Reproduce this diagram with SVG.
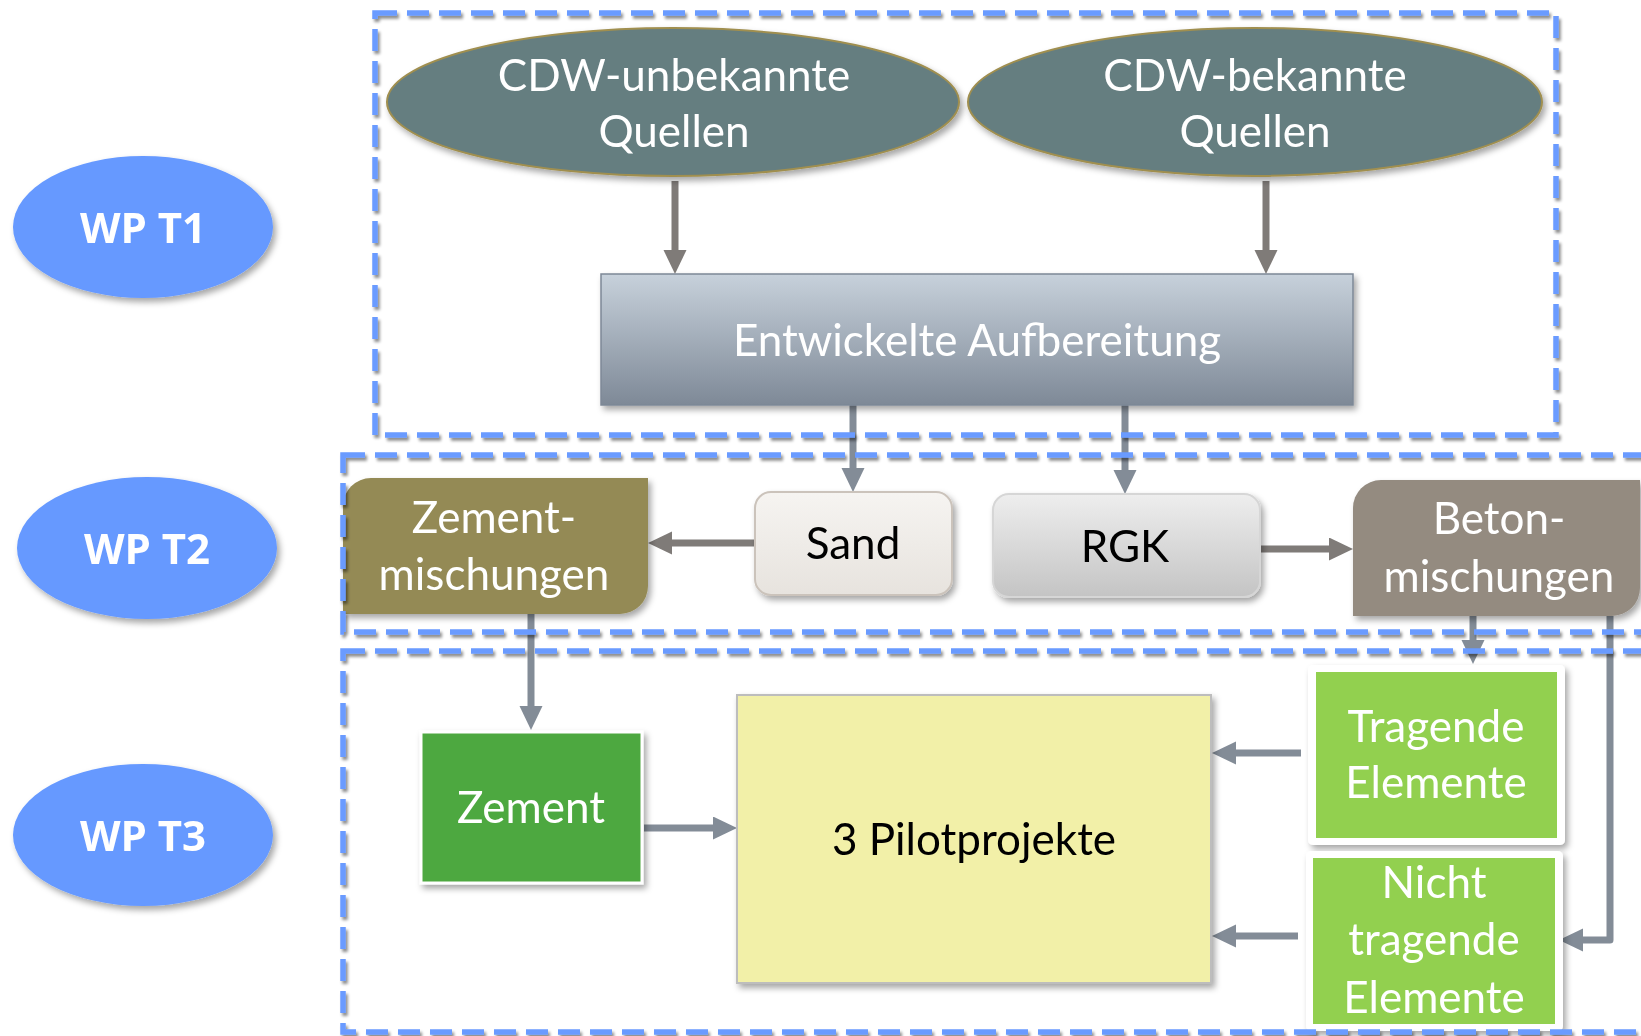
<svg xmlns="http://www.w3.org/2000/svg" width="1641" height="1036" viewBox="0 0 1641 1036">
<style>
.lbl{font-family:Lato,"Open Sans","Liberation Sans",sans-serif;font-size:44px;text-anchor:middle}
.w{fill:#ffffff}
.k{fill:#000000}
.wp{font-family:"Open Sans","DejaVu Sans",sans-serif;font-weight:700;font-size:42px;fill:#ffffff;text-anchor:middle}
.c1{stroke:#7f7b78;stroke-width:7;fill:none}
.c2{stroke:#838c97;stroke-width:7;fill:none;stroke-linejoin:round}
.box{fill:none;stroke:#6a9bff;stroke-width:5.5;stroke-dasharray:22 10}
</style>
<defs>
<filter id="sh" x="-10%" y="-10%" width="130%" height="130%">
<feDropShadow dx="3" dy="4" stdDeviation="3" flood-color="#000" flood-opacity="0.35"/>
</filter>
<filter id="sh2" x="-5%" y="-5%" width="110%" height="110%">
<feDropShadow dx="2" dy="3" stdDeviation="1.5" flood-color="#000" flood-opacity="0.45"/>
</filter>
<linearGradient id="gEnt" x1="0" y1="0" x2="0" y2="1">
<stop offset="0" stop-color="#c7d1db"/><stop offset="1" stop-color="#7e8997"/>
</linearGradient>
<linearGradient id="gSand" x1="0" y1="0" x2="0" y2="1">
<stop offset="0" stop-color="#f6f4f1"/><stop offset="1" stop-color="#e7e3de"/>
</linearGradient>
<linearGradient id="gRGK" x1="0" y1="0" x2="0" y2="1">
<stop offset="0" stop-color="#eeeeee"/><stop offset="1" stop-color="#c4c4c4"/>
</linearGradient>
<marker id="a1" markerUnits="userSpaceOnUse" markerWidth="25" markerHeight="24" refX="0" refY="11.5" orient="auto">
<path d="M0,0 L24,11.5 L0,23 z" fill="#7f7b78"/>
</marker>
<marker id="a2" markerUnits="userSpaceOnUse" markerWidth="25" markerHeight="24" refX="0" refY="11.5" orient="auto">
<path d="M0,0 L24,11.5 L0,23 z" fill="#838c97"/>
</marker>
</defs>
<rect width="1641" height="1036" fill="#ffffff"/>

<g id="wp-t1" filter="url(#sh)">
<ellipse cx="143" cy="227" rx="130" ry="71" fill="#6699ff"/>
<text class="wp" x="143" y="243">WP T1</text>
</g>
<g id="wp-t2" filter="url(#sh)">
<ellipse cx="147" cy="548" rx="130" ry="71" fill="#6699ff"/>
<text class="wp" x="147" y="564">WP T2</text>
</g>
<g id="wp-t3" filter="url(#sh)">
<ellipse cx="143" cy="835" rx="130" ry="71" fill="#6699ff"/>
<text class="wp" x="143" y="851">WP T3</text>
</g>

<g id="connectors">
<path class="c1" d="M675 181 V250" marker-end="url(#a1)"/>
<path class="c1" d="M1266 181 V250" marker-end="url(#a1)"/>
<path class="c2" d="M853 405 V468" marker-end="url(#a2)"/>
<path class="c2" d="M1125 405 V470" marker-end="url(#a2)"/>
<path class="c1" d="M755 543 H672" marker-end="url(#a1)"/>
<path class="c1" d="M1261 549 H1329" marker-end="url(#a1)"/>
<path class="c2" d="M531 614 V706" marker-end="url(#a2)"/>
<path class="c2" d="M644 828 H713" marker-end="url(#a2)"/>
<path class="c2" d="M1301 753 H1236" marker-end="url(#a2)"/>
<path class="c2" d="M1298 936 H1236" marker-end="url(#a2)"/>
<path class="c2" d="M1473 616 V640" marker-end="url(#a2)"/>
<path class="c2" d="M1610 616 V940 H1583" marker-end="url(#a2)"/>
</g>

<g id="cdw-unbekannte" filter="url(#sh)">
<ellipse cx="673" cy="102" rx="286" ry="74" fill="#657e80" stroke="#a08f50" stroke-width="2"/>
<text class="lbl w" x="674" y="91">CDW-unbekannte</text>
<text class="lbl w" x="674" y="147">Quellen</text>
</g>
<g id="cdw-bekannte" filter="url(#sh)">
<ellipse cx="1255" cy="102" rx="287" ry="74" fill="#657e80" stroke="#a08f50" stroke-width="2"/>
<text class="lbl w" x="1255" y="91">CDW-bekannte</text>
<text class="lbl w" x="1255" y="147">Quellen</text>
</g>
<g id="aufbereitung" filter="url(#sh)">
<rect x="601" y="274" width="752" height="131" fill="url(#gEnt)" stroke="#7d8896" stroke-width="1.5"/>
<text class="lbl w" x="977" y="356">Entwickelte Aufbereitung</text>
</g>

<g id="zementmischungen" filter="url(#sh)">
<path d="M371 478 H648 V586 A28 28 0 0 1 620 614 H343 V506 A28 28 0 0 1 371 478 Z" fill="#948a54"/>
<text class="lbl w" x="494" y="533">Zement-</text>
<text class="lbl w" x="494" y="590">mischungen</text>
</g>
<g id="sand" filter="url(#sh)">
<rect x="755" y="492" width="197" height="103" rx="16" fill="url(#gSand)" stroke="#cbc3bb" stroke-width="2"/>
<text class="lbl k" x="853" y="559">Sand</text>
</g>
<g id="rgk" filter="url(#sh)">
<rect x="993" y="494" width="267" height="103" rx="16" fill="url(#gRGK)" stroke="#d6d6d6" stroke-width="2"/>
<text class="lbl k" x="1125" y="562">RGK</text>
</g>
<g id="betonmischungen" filter="url(#sh)">
<path d="M1381 480 H1640 V588 A28 28 0 0 1 1612 616 H1353 V508 A28 28 0 0 1 1381 480 Z" fill="#948b80"/>
<text class="lbl w" x="1499" y="534">Beton-</text>
<text class="lbl w" x="1499" y="592">mischungen</text>
</g>

<g id="zement" filter="url(#sh)">
<rect x="421" y="732" width="221" height="151" fill="#4ea83f" stroke="#ffffff" stroke-width="3"/>
<text class="lbl w" x="531" y="823">Zement</text>
</g>
<g id="pilotprojekte" filter="url(#sh)">
<rect x="737" y="695" width="474" height="288" fill="#f2f0a8" stroke="#bdbdbd" stroke-width="2"/>
<text class="lbl k" x="974" y="855">3 Pilotprojekte</text>
</g>
<g id="tragende" filter="url(#sh)">
<rect x="1308" y="665" width="257" height="180" rx="5" fill="#ffffff"/>
<rect x="1316" y="672" width="241" height="166" fill="#92d050"/>
<text class="lbl w" x="1436" y="742">Tragende</text>
<text class="lbl w" x="1436" y="798">Elemente</text>
</g>
<g id="nicht-tragende" filter="url(#sh)">
<rect x="1306" y="851" width="257" height="180" rx="5" fill="#ffffff"/>
<rect x="1313" y="858" width="242" height="166" fill="#92d050"/>
<text class="lbl w" x="1434" y="898">Nicht</text>
<text class="lbl w" x="1434" y="955">tragende</text>
<text class="lbl w" x="1434" y="1013">Elemente</text>
</g>

<g id="workpackage-frames" filter="url(#sh2)">
<rect class="box" x="375" y="13" width="1181" height="422"/>
<rect class="box" x="343" y="455" width="1320" height="177"/>
<rect class="box" x="343" y="651" width="1320" height="381"/>
</g>
</svg>
